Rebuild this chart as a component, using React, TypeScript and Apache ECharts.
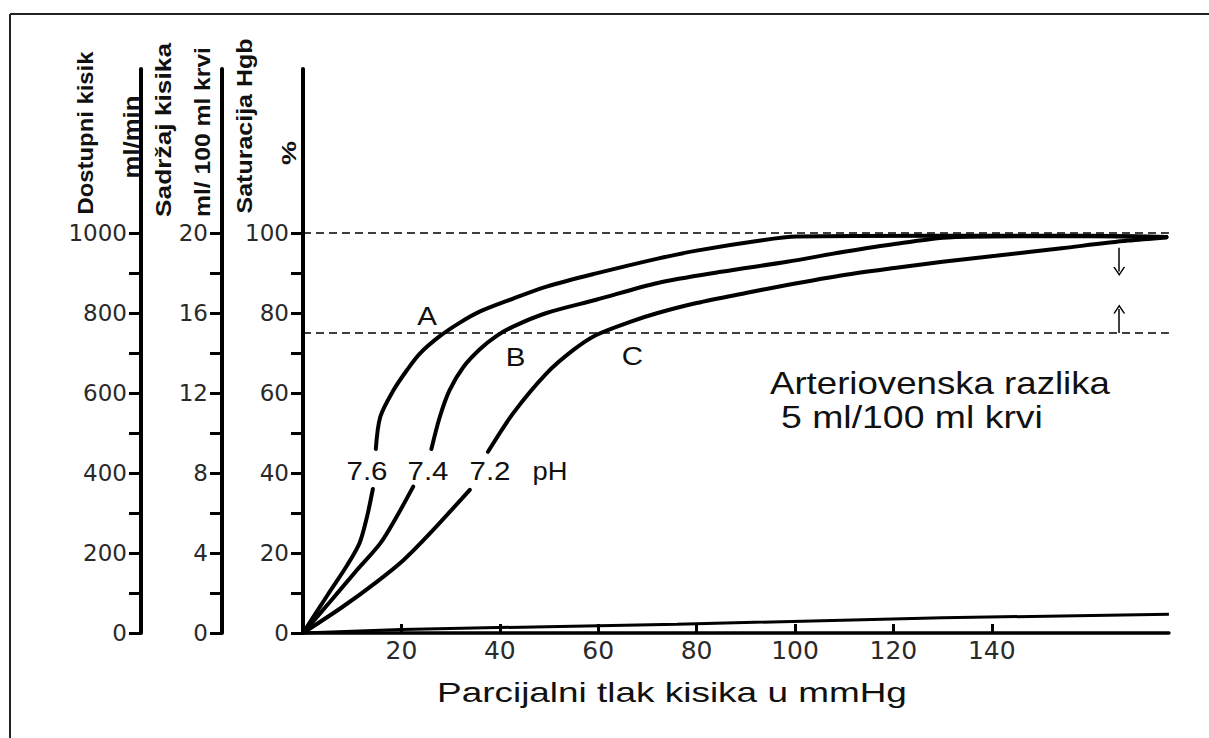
import React, { useEffect, useRef } from "react";
import * as echarts from "echarts";

// ---------------- data ----------------
// Oxygen–haemoglobin dissociation curves, x = pO2 (mmHg), y = saturation (%)
const curveA_lower: number[][] = [[0, 0], [5, 9.5], [9, 17], [11.5, 22.5], [13, 29], [14.2, 36]];
const curveA_upper: number[][] = [
  [14.8, 46], [15.7, 54], [18.3, 60.5], [21, 65.5], [23.7, 69.8], [27.8, 74.2], [31.9, 77.6],
  [36, 80.4], [42.7, 83.6], [49.5, 86.6], [59.6, 89.9], [72.1, 93.6], [80, 95.6],
  [92.3, 98], [100.4, 99.1], [130, 99.3], [160, 99.3], [175.5, 99]
];
const curveB_lower: number[][] = [[0, 0], [5.5, 7.8], [10.8, 15.5], [15.7, 22.4], [19, 29], [22.4, 36.6]];
const curveB_upper: number[][] = [
  [26.1, 46], [27.8, 54], [29.8, 60.7], [32.6, 66.5], [36, 71], [39.3, 74.2], [42.7, 76.6],
  [49.5, 80], [59.6, 83.3], [72.1, 87.5], [85, 90.3], [98.4, 92.8], [110, 95.3],
  [120.6, 97.3], [132.7, 99], [160, 99.2], [175.5, 99]
];
const curveC_lower: number[][] = [[0, 0], [8, 6.5], [15, 12.8], [20.4, 18.2], [25.8, 24.9], [33.9, 35.8]];
const curveC_upper: number[][] = [
  [37.6, 45.3], [42.7, 54.9], [49.5, 64.9], [54.9, 70.7], [59.6, 74.5], [66.5, 77.8],
  [72.1, 80], [80, 82.5], [90, 85], [98.4, 87], [110, 89.5], [120.6, 91.3], [130, 92.8],
  [140.8, 94.3], [154.2, 96.2], [167.7, 98.1], [175.5, 98.9]
];
// physically dissolved oxygen (bottom line)
const dissolvedO2: number[][] = [[0, 0], [20, 0.9], [76, 2.2], [130, 3.8], [176, 4.7]];

// axes
const X_MAX = 176;
const X_TICK_MAX = 140;
const X_TICK_STEP = 20;
const SAT_AXIS_TOP = 141;
const SAT_MAX = 100;
const SAT_STEP = 10;
const CONTENT_MAX = 20;
const CONTENT_STEP = 2;
const DELIVERY_MAX = 1000;
const DELIVERY_STEP = 100;

// reference (dashed) lines and the arterio-venous arrows
const refLines = [100, 75];
const arrowX = 165.9;
const arrowDown = [96.3, 90.4];
const arrowUp = [75, 81];

// texts
const curveLetters = ["A", "B", "C"];
const phLabels = ["7.6", "7.4", "7.2", "pH"];
const xTitle = "Parcijalni tlak kisika u mmHg";
const noteLines = ["Arteriovenska razlika", "5 ml/100 ml krvi"];
const yTitles = ["Dostupni kisik", "ml/min", "Sadržaj kisika", "ml/ 100 ml krvi", "Saturacija Hgb", "%"];

// ---------------- layout ----------------
const W = 1209;
const H = 738;
const GRID_LEFT = 303;
const AXIS_Y = 633;
const PX_PCT = 4;
const PX_MMHG = 4.92;

const SANS = '"Liberation Sans", Arial, sans-serif';

function measure(text: string, font: string): number {
  const c = document.createElement("canvas").getContext("2d");
  if (!c) return text.length * 10;
  c.font = font;
  return c.measureText(text).width || 1;
}

function hText(text: string, x: number, y: number, size: number, targetW: number | null, align = "center", sx = 1.18) {
  const font = `${size}px ${SANS}`;
  const scaleX = targetW ? targetW / measure(text, font) : sx;
  return {
    type: "text",
    x,
    y,
    scaleX,
    z: 50,
    silent: true,
    style: {
      text,
      fontFamily: SANS,
      fontSize: size,
      fill: "#111",
      align,
      verticalAlign: "middle",
    },
  };
}

function vText(text: string, cx: number, cy: number, size: number, len: number | null) {
  const font = `bold ${size}px ${SANS}`;
  const scaleX = len ? len / measure(text, font) : 1;
  return {
    type: "text",
    x: cx,
    y: cy,
    rotation: Math.PI / 2,
    scaleX,
    z: 50,
    silent: true,
    style: {
      text,
      fontFamily: SANS,
      fontSize: size,
      fontWeight: "bold",
      fill: "#111",
      align: "center",
      verticalAlign: "middle",
    },
  };
}

const chevronUp = "path://M0,10 L5,0 L10,10 L8.6,10 L5,2.8 L1.4,10 Z";

export default function App() {
  const ref = useRef<HTMLDivElement>(null);

  useEffect(() => {
    if (!ref.current) return;
    const chart = echarts.init(ref.current, null, { renderer: "svg" });

    const lineSeries = (name: string, data: number[][]) => ({
      name,
      type: "line",
      xAxisIndex: 0,
      yAxisIndex: 0,
      data,
      symbol: "none",
      showSymbol: false,
      smooth: 0.3,
      clip: false,
      silent: true,
      z: 5,
      lineStyle: { color: "#000", width: 4, cap: "round" },
    });

    const axisLineOnly = (gridIndex: number, offset: number) => ({
      type: "value",
      gridIndex,
      position: "left",
      offset,
      min: 0,
      max: SAT_AXIS_TOP,
      axisLine: { show: true, onZero: false, lineStyle: { color: "#000", width: 4 } },
      axisTick: { show: false },
      axisLabel: { show: false },
      splitLine: { show: false },
    });

    const tickAxis = (offset: number, max: number, step: number, labelStep: number) => ({
      type: "value",
      gridIndex: 1,
      position: "left",
      offset,
      min: 0,
      max,
      interval: step,
      axisLine: { show: false },
      axisTick: { show: true, inside: false, length: 12, lineStyle: { color: "#000", width: 3 } },
      axisLabel: {
        show: true,
        margin: 14,
        showMinLabel: true,
        showMaxLabel: true,
        fontFamily: "DejaVu Sans",
        fontSize: 23,
        color: "#2a2a2a",
        formatter: (v: number) => (Math.round(v) % labelStep === 0 ? String(Math.round(v)) : ""),
      },
      splitLine: { show: false },
    });

    const graphics: any[] = [
      // frame (top + left edges)
      { type: "line", silent: true, z: 1, shape: { x1: 10, y1: 14, x2: W + 10, y2: 14 }, style: { stroke: "#222", lineWidth: 2 } },
      { type: "line", silent: true, z: 1, shape: { x1: 10, y1: 14, x2: 10, y2: H + 10 }, style: { stroke: "#222", lineWidth: 2 } },
      // axis titles (rotated)
      vText(yTitles[0], 85, 133, 22, 163),
      vText(yTitles[1], 131, 137, 22, 83),
      vText(yTitles[2], 163, 130, 22, 174),
      vText(yTitles[3], 202, 132, 22, 170),
      vText(yTitles[4], 245, 126, 22, 175),
      vText(yTitles[5], 289, 153, 20, 24),
      // curve letters
      hText(curveLetters[0], 427, 316, 25, null),
      hText(curveLetters[1], 515.5, 357, 25, null),
      hText(curveLetters[2], 632.5, 356.5, 25, null),
      // pH labels
      hText(phLabels[0], 367, 471, 25, 41),
      hText(phLabels[1], 428, 471, 25, 41),
      hText(phLabels[2], 490, 471, 25, 41),
      hText(phLabels[3], 550, 471, 25, 35),
      // annotation
      hText(noteLines[0], 770, 383, 31, 340, "left"),
      hText(noteLines[1], 781, 417, 31, 262, "left"),
      // x title
      hText(xTitle, 437, 692, 28, 470, "left"),
    ];

    const option: any = {
      animation: false,
      backgroundColor: "#fff",
      grid: [
        {
          left: GRID_LEFT,
          top: AXIS_Y - SAT_AXIS_TOP * PX_PCT,
          width: X_MAX * PX_MMHG,
          height: SAT_AXIS_TOP * PX_PCT,
          containLabel: false,
          outerBoundsMode: "none",
        },
        {
          left: GRID_LEFT,
          top: AXIS_Y - SAT_MAX * PX_PCT,
          width: X_TICK_MAX * PX_MMHG,
          height: SAT_MAX * PX_PCT,
          containLabel: false,
          outerBoundsMode: "none",
        },
      ],
      xAxis: [
        {
          type: "value",
          gridIndex: 0,
          min: 0,
          max: X_MAX,
          axisLine: { show: true, onZero: false, lineStyle: { color: "#000", width: 3.5 } },
          axisTick: { show: false },
          axisLabel: { show: false },
          splitLine: { show: false },
        },
        {
          type: "value",
          gridIndex: 1,
          min: 0,
          max: X_TICK_MAX,
          interval: X_TICK_STEP,
          axisLine: { show: false, onZero: false },
          axisTick: { show: true, inside: true, length: 9, lineStyle: { color: "#000", width: 3 } },
          axisLabel: {
            show: true,
            margin: 5,
            showMinLabel: true,
            showMaxLabel: true,
            fontFamily: "DejaVu Sans",
            fontSize: 25,
            color: "#2a2a2a",
            formatter: (v: number) => (v === 0 ? "" : String(v)),
          },
          splitLine: { show: false },
        },
      ],
      yAxis: [
        axisLineOnly(0, 0),
        axisLineOnly(0, 81),
        axisLineOnly(0, 162),
        tickAxis(0, SAT_MAX, SAT_STEP, 20),
        tickAxis(81, CONTENT_MAX, CONTENT_STEP, 4),
        tickAxis(162, DELIVERY_MAX, DELIVERY_STEP, 200),
      ],
      series: [
        lineSeries("A1", curveA_lower),
        lineSeries("A2", curveA_upper),
        lineSeries("B1", curveB_lower),
        lineSeries("B2", curveB_upper),
        lineSeries("C1", curveC_lower),
        lineSeries("C2", curveC_upper),
        {
          ...lineSeries("dissolved", dissolvedO2),
          smooth: false,
          lineStyle: { color: "#000", width: 3 },
          markLine: {
            silent: true,
            symbol: ["none", "none"],
            label: { show: false },
            lineStyle: { color: "#000", type: [8, 5], width: 1.5 },
            data: [
              { yAxis: refLines[0] },
              { yAxis: refLines[1] },
              [
                { coord: [arrowX, arrowDown[0]], symbol: "none", lineStyle: { type: "solid", width: 1.5, color: "#000" } },
                { coord: [arrowX, arrowDown[1]], symbol: chevronUp, symbolSize: [12, 9] },
              ],
              [
                { coord: [arrowX, arrowUp[0]], symbol: "none", lineStyle: { type: "solid", width: 1.5, color: "#000" } },
                { coord: [arrowX, arrowUp[1]], symbol: chevronUp, symbolSize: [12, 9] },
              ],
            ],
          },
        },
      ],
      graphic: graphics,
    };

    chart.setOption(option);
    return () => chart.dispose();
  }, []);

  return (
    <div
      ref={ref}
      style={{ position: "fixed", left: 0, top: 0, width: W, height: H, background: "#fff" }}
    />
  );
}
